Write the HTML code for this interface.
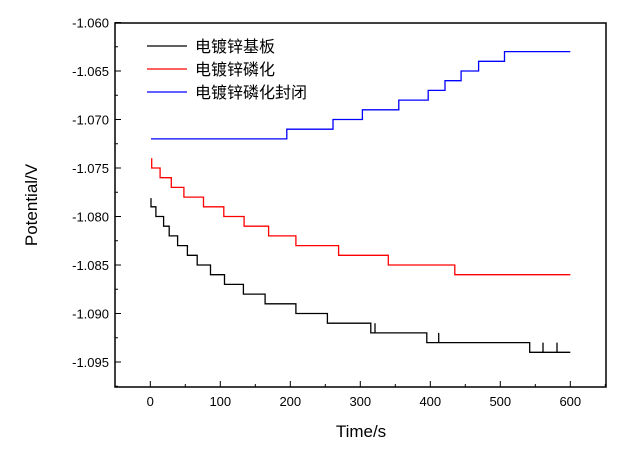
<!DOCTYPE html>
<html><head><meta charset="utf-8"><style>
body{margin:0;background:#fff}
svg text{font-family:"Liberation Sans","Noto Sans CJK SC",sans-serif}
</style></head><body>
<svg id="chart" width="635" height="445" xmlns="http://www.w3.org/2000/svg">
<g id="axes"></g><g id="series"></g><g id="legend"></g>
</svg>
<script>
const xTicks=[0,100,200,300,400,500,600];
const yTicks=[-1.060,-1.065,-1.070,-1.075,-1.080,-1.085,-1.090,-1.095];
const blackT=[1,8,19,27,39,53,67,86,106,133,164,208,253,315,395,542];
const blackV=[-1.079,-1.080,-1.081,-1.082,-1.083,-1.084,-1.085,-1.086,-1.087,-1.088,-1.089,-1.090,-1.091,-1.092,-1.093,-1.094];
const blackStart=-1.0781;
const blackSpikeT=[321,412,561,581];
const blackSpikeTop=[-1.091,-1.092,-1.093,-1.093];
const blackSpikeBase=[-1.092,-1.093,-1.094,-1.094];
const redT=[2,14,30,48,76,105,134,169,208,269,340,435];
const redV=[-1.075,-1.076,-1.077,-1.078,-1.079,-1.080,-1.081,-1.082,-1.083,-1.084,-1.085,-1.086];
const redStart=-1.074;
const blueT=[1,195,261,303,355,397,421,444,469,506];
const blueV=[-1.072,-1.071,-1.070,-1.069,-1.068,-1.067,-1.066,-1.065,-1.064,-1.063];
const blueStart=-1.072;
const tEnd=600;

const L=115,R=606,T=23,B=387;
const X=t=>150.3+t*0.7;
const Y=v=>22.5+(-1.060-v)*9700;
const NS="http://www.w3.org/2000/svg";
function mk(tag,attrs,parent){const e=document.createElementNS(NS,tag);for(const k in attrs)e.setAttribute(k,attrs[k]);parent.appendChild(e);return e;}
const axes=document.getElementById('axes');
const frame=mk('rect',{x:L,y:T,width:R-L,height:B-T,fill:'none',stroke:'#000','stroke-width':1.5},axes);


xTicks.forEach(t=>{
  const l=mk('line',{x1:X(t),x2:X(t),y1:B,y2:B-6,stroke:'#000','stroke-width':1},axes);
  
  
  const m=mk('line',{x1:X(t+50),x2:X(t+50),y1:B,y2:B-3,stroke:'#000','stroke-width':1},axes);
  
  
  const tx=mk('text',{x:X(t),y:B+19,'font-size':13,'text-anchor':'middle'},axes);tx.textContent=t;
  
  
});
yTicks.forEach(v=>{
  const l=mk('line',{x1:L,x2:L+6,y1:Y(v),y2:Y(v),stroke:'#000','stroke-width':1},axes);
  
  
  const m=mk('line',{x1:L,x2:L+3,y1:Y(v-0.0025),y2:Y(v-0.0025),stroke:'#000','stroke-width':1},axes);
  
  
  const tx=mk('text',{x:L-6,y:Y(v)+5,'font-size':13,'text-anchor':'end'},axes);tx.textContent=v.toFixed(3);
  
  
});
const xt=mk('text',{x:361,y:437,'font-size':17,'text-anchor':'middle'},axes);xt.textContent='Time/s';


const yt=mk('text',{x:0,y:0,'font-size':17,'text-anchor':'middle',transform:'translate(37,205) rotate(-90)'},axes);yt.textContent='Potential/V';



const ser=document.getElementById('series');
function step(ts,vs,start,color,name){
  let d='M'+X(ts[0])+' '+Y(start);
  let cur=start;
  ts.forEach((t,i)=>{d+=' L'+X(t)+' '+Y(cur)+' L'+X(t)+' '+Y(vs[i]);cur=vs[i];});
  d+=' L'+X(tEnd)+' '+Y(cur);
  const p=mk('path',{d:d,fill:'none',stroke:color,'stroke-width':1.3},ser);
  
  
}
step(blackT,blackV,blackStart,'#000','series-substrate');
step(redT,redV,redStart,'#f00','series-phosphated');
step(blueT,blueV,blueStart,'#00f','series-phosphated-sealed');
blackSpikeT.forEach((t,i)=>{
  const s=mk('line',{x1:X(t),x2:X(t),y1:Y(blackSpikeBase[i]),y2:Y(blackSpikeTop[i]),stroke:'#000','stroke-width':1.3},ser);
  
  
});

const leg=document.getElementById('legend');
[['#000','电镀锌基板','legend-substrate'],['#f00','电镀锌磷化','legend-phosphated'],['#00f','电镀锌磷化封闭','legend-phosphated-sealed']].forEach((e,i)=>{
  const y=46+i*23;
  const g=mk('g',{},leg);
  
  
  mk('line',{x1:147,x2:187,y1:y,y2:y,stroke:e[0],'stroke-width':1.3},g);
  const tx=mk('text',{x:195,y:y+6,'font-size':16},g);tx.textContent=e[1];
});
</script>
</body></html>
